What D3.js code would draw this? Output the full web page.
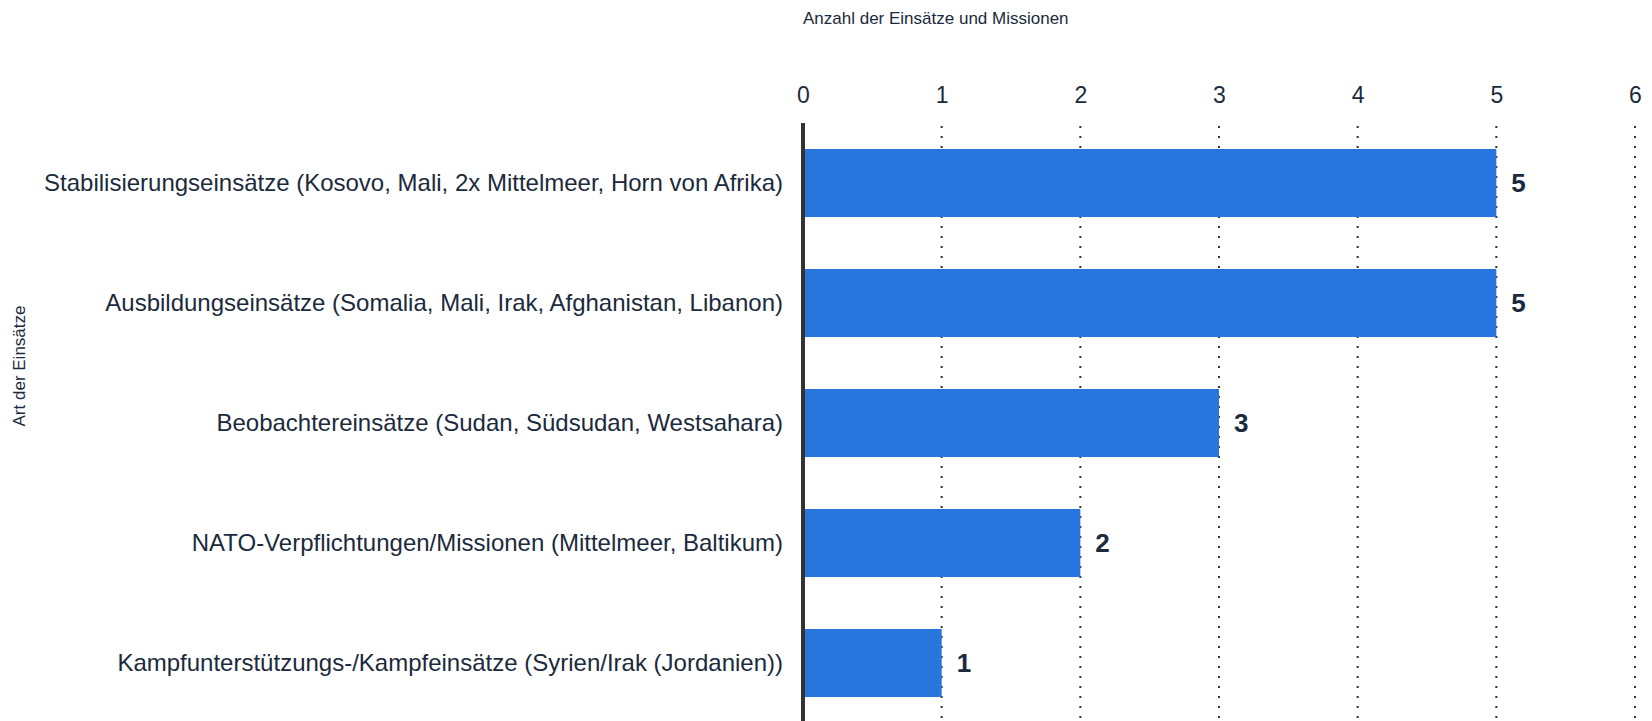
<!DOCTYPE html>
<html>
<head>
<meta charset="utf-8">
<script src="https://cdn.jsdelivr.net/npm/d3@7"></script>
<style>
  html, body { margin: 0; padding: 0; background: #fff; }
  svg { display: block; }
  text { font-family: "Liberation Sans", Arial, sans-serif; }
</style>
</head>
<body>
<svg id="chart" width="1652" height="721"></svg>
<script>
const categories = [
  "Stabilisierungseinsätze (Kosovo, Mali, 2x Mittelmeer, Horn von Afrika)",
  "Ausbildungseinsätze (Somalia, Mali, Irak, Afghanistan, Libanon)",
  "Beobachtereinsätze (Sudan, Südsudan, Westsahara)",
  "NATO-Verpflichtungen/Missionen (Mittelmeer, Baltikum)",
  "Kampfunterstützungs-/Kampfeinsätze (Syrien/Irak (Jordanien))"
];
const values = [5, 5, 3, 2, 1];
const tickValues = [0, 1, 2, 3, 4, 5, 6];
const xTitle = "Anzahl der Einsätze und Missionen";
const yTitle = "Art der Einsätze";

const svg = d3.select("#chart");
const textColor = "#1b2a3c";
const barColor = "#2876dd";

const x = d3.scaleLinear().domain([0, 6]).range([803, 1635]);
const y = d3.scaleBand().domain(categories).range([123, 723]).paddingInner(0.433).paddingOuter(0.2165);

// gridlines
svg.append("g").selectAll("line")
  .data(tickValues.filter(d => d > 0))
  .join("line")
  .attr("x1", d => x(d)).attr("x2", d => x(d))
  .attr("y1", 126).attr("y2", 721)
  .attr("stroke", "#333")
  .attr("stroke-width", 2)
  .attr("stroke-dasharray", "2,8");

// top axis tick labels
const xAxis = d3.axisTop(x).tickValues(tickValues).tickSize(0).tickPadding(0).tickFormat(d3.format("d"));
const gx = svg.append("g").attr("transform", "translate(0,103)").call(xAxis);
gx.select(".domain").remove();
gx.selectAll("text")
  .attr("font-size", 23)
  .attr("fill", textColor)
  .attr("font-family", "Liberation Sans, Arial, sans-serif");

// bars
svg.append("g").selectAll("rect")
  .data(values)
  .join("rect")
  .attr("x", x(0))
  .attr("y", (d, i) => y(categories[i]))
  .attr("width", d => x(d) - x(0))
  .attr("height", y.bandwidth())
  .attr("fill", barColor);

// value labels
svg.append("g").selectAll("text")
  .data(values)
  .join("text")
  .attr("x", d => x(d) + 15)
  .attr("y", (d, i) => y(categories[i]) + y.bandwidth() / 2)
  .attr("dy", "0.36em")
  .attr("font-size", 26)
  .attr("font-weight", "bold")
  .attr("fill", textColor)
  .text(d => d);

// y axis with category labels
const yAxis = d3.axisLeft(y).tickSize(0).tickPadding(20);
const gy = svg.append("g").attr("transform", `translate(${x(0)},0)`).call(yAxis);
gy.select(".domain").remove();
gy.selectAll("text")
  .attr("font-size", 24)
  .attr("fill", textColor)
  .attr("font-family", "Liberation Sans, Arial, sans-serif");

// axis line
svg.append("line")
  .attr("x1", x(0)).attr("x2", x(0))
  .attr("y1", 123).attr("y2", 721)
  .attr("stroke", "#333")
  .attr("stroke-width", 4);

// titles
svg.append("text")
  .attr("x", 803).attr("y", 24)
  .attr("font-size", 17)
  .attr("fill", textColor)
  .text(xTitle);

svg.append("text")
  .attr("transform", "translate(25,366) rotate(-90)")
  .attr("text-anchor", "middle")
  .attr("font-size", 17)
  .attr("fill", textColor)
  .text(yTitle);
</script>
</body>
</html>
